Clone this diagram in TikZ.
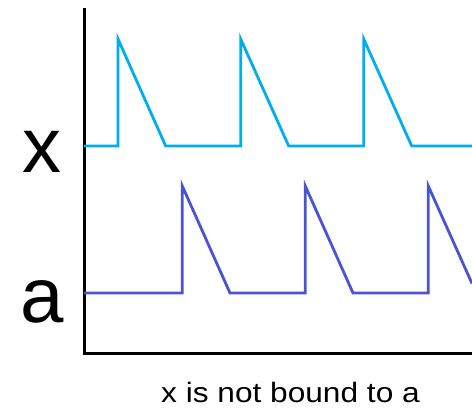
\documentclass[tikz,border=0pt]{standalone}
\usepackage{fontspec}
\setmainfont{Liberation Sans}
\definecolor{wavecyan}{RGB}{0,174,239}
\definecolor{waveblue}{RGB}{72,84,212}
\begin{document}
\begin{tikzpicture}[x=1pt,y=-1pt,
  axis/.style={line width=3pt,black},
  wave/.style={line width=2.8pt,line join=miter},
  biglabel/.style={font=\fontsize{78}{80}\selectfont,anchor=base,inner sep=0pt},
  caption/.style={font=\fontsize{28}{30}\selectfont,anchor=base,inner sep=0pt}]
\useasboundingbox (0,0) rectangle (472,410);
\coordinate (top) at (84,8);
\coordinate (origin) at (84,353);
\coordinate (right) at (472,353);
\draw[axis] (top) -- (origin) -- (right);
\draw[wave,wavecyan] (84,146) -- (118,146) -- (118,39) -- (165.7,146) -- (240.7,146) -- (240.7,39) -- (288.7,146) -- (363.7,146) -- (363.7,39) -- (411.7,146) -- (472,146);
\draw[wave,waveblue] (84,293) -- (182.3,293) -- (182.3,186) -- (230,293) -- (305.3,293) -- (305.3,186) -- (353,293) -- (428.3,293) -- (428.3,186) -- (472,283.5);
\node[biglabel] (lx) at (41.7,172.7) {x};
\node[biglabel] (la) at (41.7,322) {a};
\node[caption] (cap) at (290.5,402.7) {\scalebox{1.13}[1]{x is not bound to a}};
\end{tikzpicture}
\end{document}
